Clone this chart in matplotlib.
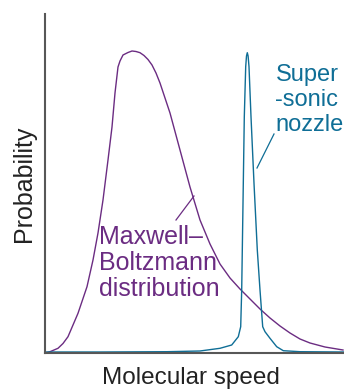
#!/usr/bin/env python3
"""
plot.py

Maxwell-Boltzmann speed distribution vs. the narrow distribution
from a supersonic nozzle (schematic, no axis ticks).

Output:
  out.png
"""

import matplotlib
matplotlib.use("Agg")
import matplotlib.pyplot as plt

# ----------------------------------------------------------------------
# Data (arbitrary units)
# ----------------------------------------------------------------------
mb_speed = [0, 5, 13, 18, 23, 33, 42, 48, 53, 58, 63, 67, 70, 73, 75, 78,
            83, 87, 91, 95, 99, 103, 107, 111, 115, 125, 135, 145, 155,
            165, 175, 185, 195, 205, 215, 225, 235, 245, 255, 265, 280, 298]
mb_prob = [0, 1.3, 4.7, 9.5, 16.3, 39.7, 66.3, 93, 120, 153, 193, 226, 260, 286, 292, 298,
           300.5, 302, 301.5, 300.3, 297.5, 293.5, 288, 280, 270, 240, 203, 166, 133,
           109, 89, 75, 64, 54, 44, 35, 27, 20, 14, 10, 6, 3]

nz_speed = [0, 55, 122, 155, 175, 186.7, 193.3, 195.7, 196.7, 197.3, 198.3,
            199.3, 200.7, 201.5, 202.3, 203.1, 204, 206, 209, 212.3, 215,
            217.7, 220, 225, 231.7, 238.3, 255, 299]
nz_prob = [1, 1, 1.3, 2, 4.7, 8, 16.3, 26.3, 63, 103, 169.7,
           236.3, 286.3, 297, 300.3, 297, 286.3, 236.3, 169.7, 103, 63,
           26.3, 21.3, 14.7, 6.3, 2.3, 1.3, 1]

# ----------------------------------------------------------------------
# Style
# ----------------------------------------------------------------------
PURPLE = "#6B2C82"
TEAL = "#0F6E96"
AXIS = "#575757"
W, H = 344, 390

plt.rcParams["font.family"] = ["Liberation Sans", "DejaVu Sans"]

fig = plt.figure(figsize=(W / 100, H / 100), dpi=100)
ax = fig.add_axes([45 / W, (H - 353) / H, 299 / W, 339 / H])
ax.set_xlim(0, 299)
ax.set_ylim(0, 339)
ax.set_xticks([])
ax.set_yticks([])
for s in ("top", "right"):
    ax.spines[s].set_visible(False)
for s in ("left", "bottom"):
    ax.spines[s].set_color(AXIS)
    ax.spines[s].set_linewidth(1.5)

ax.plot(mb_speed, mb_prob, color=PURPLE, lw=1.0, clip_on=False,
        solid_joinstyle="round")
ax.plot(nz_speed, nz_prob, color=TEAL, lw=1.0, clip_on=False,
        solid_joinstyle="round")

# labels with leader lines
ax.plot([131, 149], [133, 157], color=PURPLE, lw=0.9)
ax.text(54, 90, "Maxwell\u2013\nBoltzmann\ndistribution", color=PURPLE,
        fontsize=18, ha="left", va="center", linespacing=1.1)
ax.plot([212, 229], [185, 219], color=TEAL, lw=0.9)
ax.text(230.5, 253, "Super\n-sonic\nnozzle", color=TEAL,
        fontsize=17, ha="left", va="center", linespacing=1.16)

fig.text(24 / W, 1 - 184 / H, "Probability", rotation=90, fontsize=18,
         color="#222222", ha="center", va="center")
fig.text(191 / W, 1 - 378 / H, "Molecular speed", fontsize=17.5,
         color="#222222", ha="center", va="center")

fig.savefig("out.png", dpi=100)
